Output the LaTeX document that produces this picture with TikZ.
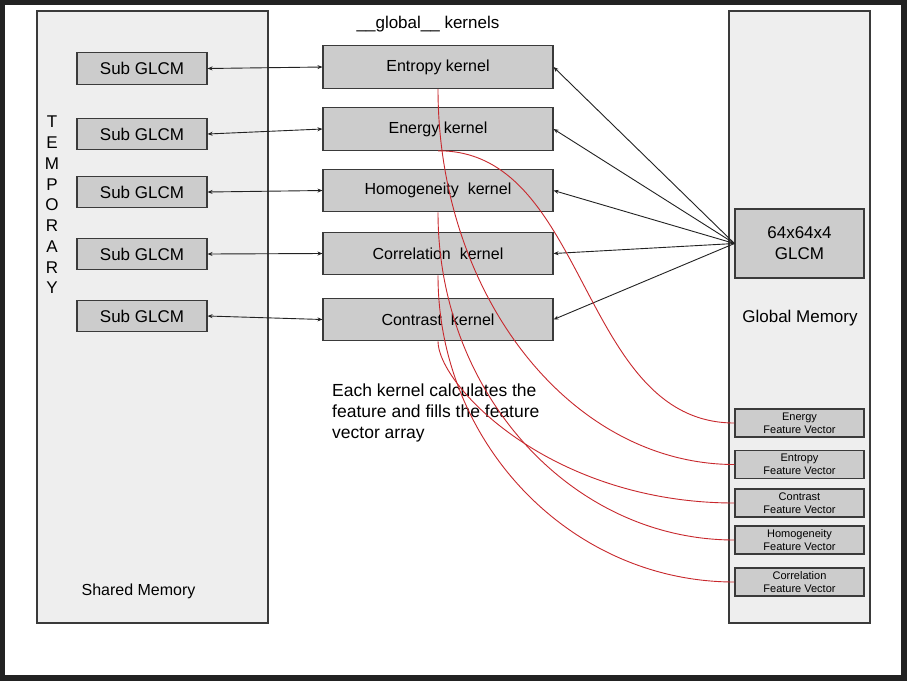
\documentclass[tikz,border=0pt]{standalone}
\usepackage{fontspec}
\setmainfont{Liberation Sans}
\usetikzlibrary{arrows.meta}
\definecolor{framec}{HTML}{222222}
\definecolor{memfill}{HTML}{EEEEEE}
\definecolor{boxfill}{HTML}{CCCCCC}
\definecolor{edgec}{HTML}{3A3A3A}
\definecolor{redline}{RGB}{200,40,45}
\begin{document}
\begin{tikzpicture}[x=1pt,y=-1pt,
  membox/.style={draw=edgec, fill=memfill, line width=1.1pt, inner sep=0pt},
  subbox/.style={draw=edgec, fill=boxfill, line width=1.1pt, minimum width=130pt, minimum height=31.5pt, inner sep=0pt, font=\fontsize{17}{20}\selectfont},
  kbox/.style={draw=edgec, fill=boxfill, line width=1.1pt, minimum width=230pt, minimum height=42.5pt, inner sep=0pt, font=\fontsize{16}{19}\selectfont},
  fvbox/.style={draw=edgec, fill=boxfill, line width=1.1pt, minimum width=129pt, minimum height=28pt, inner sep=0pt, align=center, font=\fontsize{11}{13}\selectfont},
  glcmbox/.style={draw=edgec, fill=boxfill, line width=1.1pt, minimum width=129pt, minimum height=69pt, inner sep=0pt, align=center, font=\fontsize{17}{21}\selectfont},
  label/.style={inner sep=0pt, text=black},
  biarrow/.style={draw=framec, line width=0.9pt, arrows={Stealth[length=5pt,width=4pt]-Stealth[length=5pt,width=4pt]}},
  onearrow/.style={draw=framec, line width=0.9pt, arrows={-Stealth[length=5pt,width=4pt]}},
  feedline/.style={draw=redline, line width=0.9pt}
]
\useasboundingbox (0,0) rectangle (907,681);
% frame
\fill[framec] (0,0) rectangle (907,681);
\fill[white] (5,5) rectangle (901,675);

% memory regions
\node[membox, minimum width=231pt, minimum height=612pt] (shared) at (152.5,317) {};
\node[membox, minimum width=141pt, minimum height=612pt] (global) at (799.5,317) {};

% labels
\node[label, font=\fontsize{17}{20.75}\selectfont, align=center] (temp) at (52,205) {T\\E\\M\\P\\O\\R\\A\\R\\Y};
\node[label, font=\fontsize{16}{19}\selectfont] (sharedlbl) at (138.5,591) {Shared Memory};
\node[label, font=\fontsize{17}{20}\selectfont] (globallbl) at (800,318) {Global Memory};
\node[label, font=\fontsize{17}{20}\selectfont] (title) at (428,24) {\_\_global\_\_ kernels};
\node[label, font=\fontsize{17.5}{20.7}\selectfont, align=left, anchor=north west] (note) at (332,384) {Each kernel calculates the\\feature and fills the feature\\vector array};

% sub GLCM boxes
\node[subbox] (s1) at (142,68.5) {Sub GLCM};
\node[subbox] (s2) at (142,134) {Sub GLCM};
\node[subbox] (s3) at (142,192) {Sub GLCM};
\node[subbox] (s4) at (142,254) {Sub GLCM};
\node[subbox] (s5) at (142,316) {Sub GLCM};

% kernel boxes
\node[kbox] (k1) at (438,67) {Entropy kernel};
\node[kbox] (k2) at (438,129) {Energy kernel};
\node[kbox] (k3) at (438,190.5) {Homogeneity~ kernel};
\node[kbox] (k4) at (438,253.5) {Correlation~ kernel};
\node[kbox] (k5) at (438,319.5) {Contrast~ kernel};

% global memory boxes
\node[glcmbox] (glcm) at (799.5,243.5) {64x64x4\\GLCM};
\node[fvbox] (fvEnergy) at (799.5,423) {Energy\\Feature Vector};
\node[fvbox] (fvEntropy) at (799.5,464.5) {Entropy\\Feature Vector};
\node[fvbox] (fvContrast) at (799.5,503) {Contrast\\Feature Vector};
\node[fvbox] (fvHomog) at (799.5,540) {Homogeneity\\Feature Vector};
\node[fvbox] (fvCorrel) at (799.5,582) {Correlation\\Feature Vector};

% sub GLCM <-> kernels
\draw[biarrow] (s1.east) -- (k1.west);
\draw[biarrow] (s2.east) -- (k2.west);
\draw[biarrow] (s3.east) -- (k3.west);
\draw[biarrow] (s4.east) -- (k4.west);
\draw[biarrow] (s5.east) -- (k5.west);

% GLCM -> kernels
\draw[onearrow] (glcm.west) -- (k1.east);
\draw[onearrow] (glcm.west) -- (k2.east);
\draw[onearrow] (glcm.west) -- (k3.east);
\draw[onearrow] (glcm.west) -- (k4.east);
\draw[onearrow] (glcm.west) -- (k5.east);

% kernels -> feature vectors
\draw[feedline] (k1.south) .. controls (438,296) and (571,464.5) .. (fvEntropy.west);
\draw[feedline] (k2.south) .. controls (589,150) and (579,423) .. (fvEnergy.west);
\draw[feedline] (k3.south) .. controls (438,393) and (571,540) .. (fvHomog.west);
\draw[feedline] (k4.south) .. controls (438,444) and (571,582) .. (fvCorrel.west);
\draw[feedline] (k5.south) .. controls (438,385) and (550,503) .. (fvContrast.west);
\end{tikzpicture}
\end{document}
